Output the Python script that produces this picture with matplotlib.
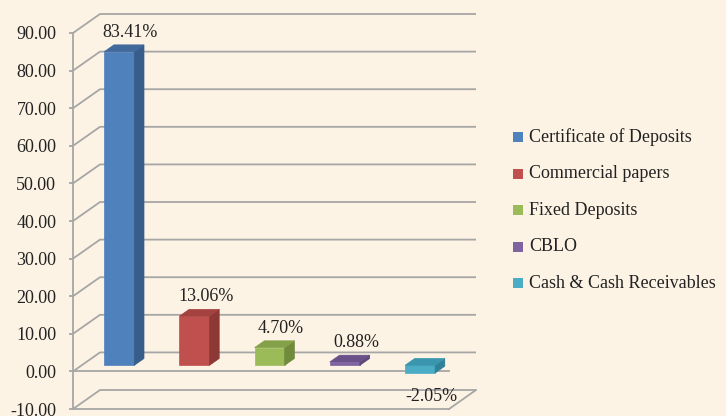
import matplotlib.pyplot as plt
from matplotlib.patches import Polygon, Rectangle

categories = ["Certificate of Deposits", "Commercial papers", "Fixed Deposits",
              "CBLO", "Cash & Cash Receivables"]
values = [83.41, 13.06, 4.70, 0.88, -2.05]
value_labels = ["83.41%", "13.06%", "4.70%", "0.88%", "-2.05%"]
y_ticks = [-10, 0, 10, 20, 30, 40, 50, 60, 70, 80, 90]

front_colors = ["#4F81BD", "#C0504D", "#9BBB59", "#8064A2", "#4BACC6"]
side_colors = ["#385D8A", "#8C3835", "#718B3D", "#5C4776", "#2F8199"]
top_colors = ["#41699C", "#A4423F", "#84A14A", "#6A5189", "#3A95AE"]

BG = "#FDF3E5"
GRID = "#A6A6A6"
TEXT = "#222222"
FONT = ["Liberation Serif", "DejaVu Serif"]
FS = 13

# perspective offset of the back wall, in data units
DX = 0.359
DY = 5.05
BAR_W = 0.40
D0, D1 = 0.32, 0.68  # bar depth range as a fraction of the floor depth


def draw_walls(ax, xmin, xmax):
    for v in y_ticks:
        ax.plot([xmin, xmin + DX, xmax + DX], [v, v + DY, v + DY],
                color=GRID, lw=1.3, zorder=1, clip_on=False, solid_capstyle="butt")
    ax.plot([xmin, xmax], [0, 0], color=GRID, lw=1.3, zorder=1, clip_on=False)
    ax.plot([xmax, xmax + DX], [-10, -10 + DY], color=GRID, lw=1.3, zorder=1, clip_on=False)


def draw_bar(ax, x, v, front, side, top):
    lo, hi = min(0, v), max(0, v)
    x0, x1 = x - BAR_W / 2, x + BAR_W / 2
    fx, fy = D0 * DX, D0 * DY
    bx, by = D1 * DX, D1 * DY
    faces = [
        ([(x0 + fx, lo + fy), (x1 + fx, lo + fy), (x1 + fx, hi + fy), (x0 + fx, hi + fy)], front),
        ([(x1 + fx, lo + fy), (x1 + bx, lo + by), (x1 + bx, hi + by), (x1 + fx, hi + fy)], side),
        ([(x0 + fx, hi + fy), (x1 + fx, hi + fy), (x1 + bx, hi + by), (x0 + bx, hi + by)], top),
    ]
    for pts, color in faces:
        ax.add_patch(Polygon(pts, closed=True, facecolor=color, edgecolor=color,
                             lw=0.5, zorder=3, clip_on=False))


def main():
    fig = plt.figure(figsize=(7.26, 4.16), dpi=100, facecolor=BG)
    ax = fig.add_axes([73 / 726, 7 / 416, 376 / 726, 376 / 416])
    ax.set_facecolor("none")

    xmin, xmax = -0.5, len(categories) - 0.5
    ax.set_xlim(xmin, xmax)
    ax.set_ylim(-10, 90)

    for side in ["top", "right"]:
        ax.spines[side].set_visible(False)
    ax.spines["left"].set_color(GRID)
    ax.spines["bottom"].set_color(GRID)
    ax.spines["left"].set_linewidth(1.3)
    ax.spines["bottom"].set_linewidth(1.3)

    ax.set_xticks([])
    ax.set_yticks(y_ticks)
    ax.set_yticklabels([f"{t:.2f}" for t in y_ticks])
    ax.tick_params(axis="y", colors=GRID, length=3, width=1.3, pad=9,
                   labelcolor=TEXT, labelsize=FS)
    for lab in ax.get_yticklabels():
        lab.set_family(FONT)

    draw_walls(ax, xmin, xmax)

    for i, v in enumerate(values):
        draw_bar(ax, i, v, front_colors[i], side_colors[i], top_colors[i])
        lx = i + D1 * DX + 0.02
        if v >= 0:
            ax.annotate(value_labels[i], (lx, v + D1 * DY), xytext=(0, 9),
                        textcoords="offset points", ha="center", va="center",
                        fontsize=FS, family=FONT, color=TEXT, zorder=5,
                        annotation_clip=False)
        else:
            ax.annotate(value_labels[i], (lx, v + D0 * DY), xytext=(0, -17),
                        textcoords="offset points", ha="center", va="center",
                        fontsize=FS, family=FONT, color=TEXT, zorder=5,
                        annotation_clip=False)

    # legend
    for i, name in enumerate(categories):
        y = 1 - (137 + i * 36.6) / 416
        fig.patches.append(Rectangle((513 / 726, y - 5 / 416), 10 / 726, 10 / 416,
                                     transform=fig.transFigure, facecolor=front_colors[i],
                                     edgecolor="none"))
        fig.text(529 / 726, y, name, ha="left", va="center", fontsize=FS,
                 family=FONT, color=TEXT)

    fig.savefig("out.png", dpi=100, facecolor=BG)
    plt.close(fig)


if __name__ == "__main__":
    main()
